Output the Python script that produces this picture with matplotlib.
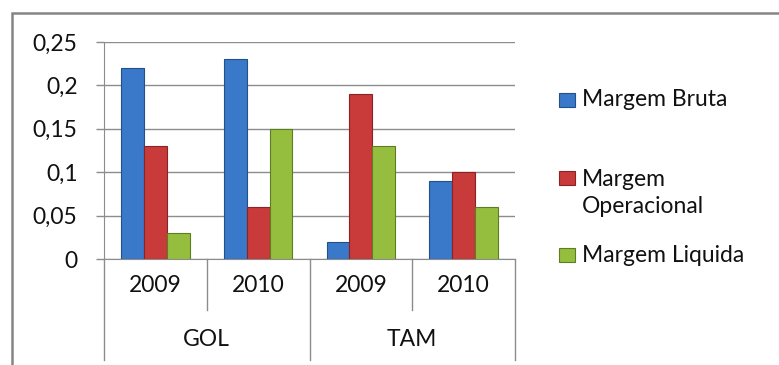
import numpy as np
import matplotlib.pyplot as plt
from matplotlib.patches import Rectangle
from matplotlib.lines import Line2D

plt.rcParams['font.family'] = ['Lato', 'DejaVu Sans']

# dados
anos = ["2009", "2010", "2009", "2010"]
empresas = ["GOL", "TAM"]
series = ["Margem Bruta", "Margem Operacional", "Margem Liquida"]
margem_bruta = [0.22, 0.23, 0.02, 0.09]
margem_operacional = [0.13, 0.06, 0.19, 0.10]
margem_liquida = [0.03, 0.15, 0.13, 0.06]
cores = ["#3A78C9", "#C93A3A", "#96BE3E"]
bordas = ["#24508A", "#8A2424", "#5E7C22"]

W, H = 779, 365
fs = 16.5
fig = plt.figure(figsize=(W / 100, H / 100), dpi=100)

# moldura cinza
fig.patches.append(Rectangle((12 / W, -0.1), 1.2, (H - 13) / H + 0.1,
                             transform=fig.transFigure, fill=False,
                             edgecolor="#858585", linewidth=1.8))

ax = fig.add_axes([104 / W, (H - 259) / H, 411 / W, 217 / H])

x = np.arange(len(anos))
larg = 0.223
valores = [margem_bruta, margem_operacional, margem_liquida]
for i, v in enumerate(valores):
    ax.bar(x + (i - 1) * larg, v, larg, color=cores[i], edgecolor=bordas[i],
           linewidth=0.8, zorder=3)

ax.set_xlim(-0.5, 3.5)
ax.set_ylim(0, 0.25)
ax.set_yticks(np.arange(0, 0.251, 0.05))
ax.set_yticklabels(["0", "0,05", "0,1", "0,15", "0,2", "0,25"])
ax.yaxis.grid(True, color="#8c8c8c", linewidth=1.0, zorder=0)
ax.tick_params(axis="y", length=6, width=1.0, color="#8c8c8c", pad=13,
               labelsize=fs, labelcolor="#111111")
ax.set_xticks([])
for s in ["top", "right"]:
    ax.spines[s].set_visible(False)
ax.spines["left"].set_color("#8c8c8c")
ax.spines["bottom"].set_color("#8c8c8c")

# eixo x em dois níveis
for i, a in enumerate(anos):
    ax.text(i, -0.12, a, transform=ax.get_xaxis_transform(), ha="center",
            va="center", fontsize=fs, color="#111111")
for j, e in enumerate(empresas):
    ax.text(2 * j + 0.5, -0.373, e, transform=ax.get_xaxis_transform(),
            ha="center", va="center", fontsize=fs, color="#111111")
for xs in [0.5, 2.5]:
    ax.add_line(Line2D([xs, xs], [0, -0.235], transform=ax.get_xaxis_transform(),
                       color="#8c8c8c", linewidth=1.0, clip_on=False))
for xs in [-0.5, 1.5, 3.5]:
    ax.add_line(Line2D([xs, xs], [0, -0.465], transform=ax.get_xaxis_transform(),
                       color="#8c8c8c", linewidth=1.0, clip_on=False))

# legenda
leg = [("Margem Bruta", 100, 100), ("Margem\nOperacional", 178, 193),
       ("Margem Liquida", 255, 255)]
for i, (txt, ym, yt) in enumerate(leg):
    fig.patches.append(Rectangle((559 / W, (H - ym - 7) / H), 16 / W, 14 / H,
                                 transform=fig.transFigure, facecolor=cores[i],
                                 edgecolor=bordas[i], linewidth=0.8))
    fig.text(582 / W, (H - yt) / H, txt, ha="left", va="center", fontsize=fs,
             color="#111111", linespacing=1.3)

fig.savefig("out.png", dpi=100)
